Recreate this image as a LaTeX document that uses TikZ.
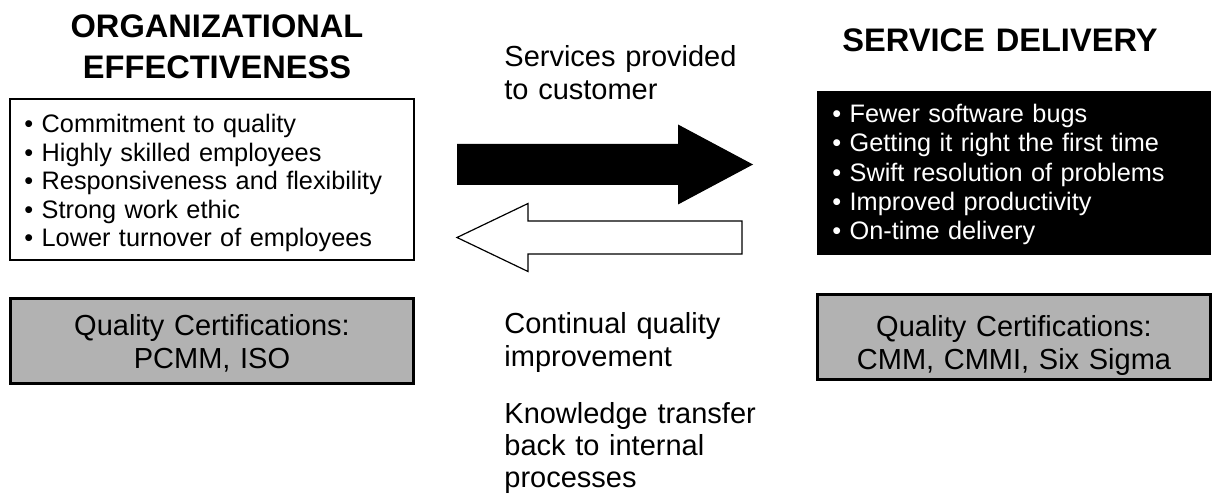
\documentclass[tikz,border=0pt]{standalone}
\usepackage{fontspec}
\setmainfont{Liberation Sans}
\begin{document}
\begin{tikzpicture}[x=0.5pt,y=-0.5pt,
    heading/.style={font=\fontsize{16.3}{20.5}\selectfont\bfseries, inner sep=0, text width=200pt, align=center, anchor=base},
    bullets/.style={font=\fontsize{12.65}{14.25}\selectfont, inner sep=0, text width=195pt, align=left, anchor=base west},
    certbox/.style={draw=black, line width=1.4pt, fill=gray!60},
    certtext/.style={font=\fontsize{14.5}{16.5}\selectfont, inner sep=0, text width=190pt, align=center, anchor=base},
    flowtext/.style={font=\fontsize{14.5}{16.5}\selectfont, inner sep=0, text width=140pt, align=left, anchor=base west}]
        \useasboundingbox (0,0) rectangle (1214,502);

        % Draw the left column
        \node[heading] (orghead) at (217,38) {ORGANIZATIONAL\\EFFECTIVENESS};
        \draw[line width=0.6pt] (10,99) rectangle (414,260);
        \node[bullets] (orglist) at (24,133) {• Commitment to quality\\• Highly skilled employees\\• Responsiveness and flexibility\\• Strong work ethic\\• Lower turnover of employees};
        \draw[certbox] (10.5,298.5) rectangle (413.5,383.5);
        \node[certtext] (orgcert) at (212,335) {Quality Certifications:\\PCMM, ISO};

        % Draw the right column
        \node[heading] (svchead) at (1000,52) {SERVICE DELIVERY};
        \fill (817,91) rectangle (1211,255);
        \node[bullets, text=white, font=\fontsize{12.65}{14.65}\selectfont] (svclist) at (832,122.7) {• Fewer software bugs\\• Getting it right the first time\\• Swift resolution of problems\\• Improved productivity\\• On-time delivery};
        \draw[certbox] (817.5,294.5) rectangle (1210.5,379.5);
        \node[certtext] (svccert) at (1014,336) {Quality Certifications:\\CMM, CMMI, Six Sigma};

        % Draw the arrows in the middle
        \fill (457,144) -- (678,144) -- (678,124.5) -- (753,164.5) -- (678,204.5) -- (678,185) -- (457,185) -- cycle;
        \draw[fill=white, line width=0.6pt] (742,221) -- (528,221) -- (528,203.5) -- (457,237.5) -- (528,271.5) -- (528,254) -- (742,254) -- cycle;

        \node[flowtext] (servtext) at (504,67) {Services provided\\to customer};
        \node[flowtext] (improvtext) at (504,333) {Continual quality\\improvement};
        \node[flowtext, font=\fontsize{14.5}{16}\selectfont] (knowtext) at (504,423) {Knowledge transfer\\back to internal\\processes};
    \end{tikzpicture}
\end{document}
